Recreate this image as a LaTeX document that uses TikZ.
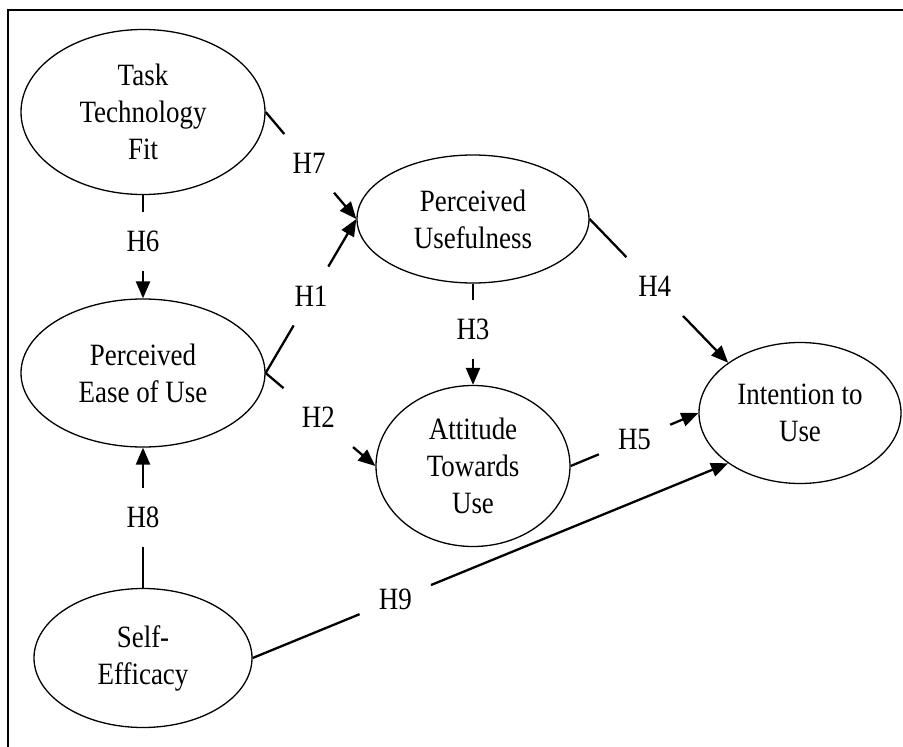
\documentclass[tikz,border=0pt]{standalone}
\usepackage{fontspec}
\setmainfont{Liberation Serif}[FakeStretch=0.87]
\usetikzlibrary{shapes.geometric,arrows.meta}
\tikzset{
  construct/.style={ellipse, draw, line width=1.3pt, inner sep=0pt, align=center,
    font=\fontsize{31}{37}\selectfont},
  lbl/.style={inner sep=19pt, font=\fontsize{31}{34}\selectfont},
  link/.style={line width=2.3pt},
  arr/.style={line width=2.3pt, -{Triangle[length=17pt,width=14pt]}},
}
\begin{document}
\begin{tikzpicture}[x=1pt,y=-1pt]
\useasboundingbox (0,0) rectangle (903,747);
\draw[line width=2pt] (903,10) -- (8,10) -- (8,747);

\node[construct, minimum width=244pt, minimum height=165pt] (TTF) at (143,112) {Task\\Technology\\Fit};
\node[construct, minimum width=244pt, minimum height=148pt] (PEOU) at (143,373) {Perceived\\Ease of Use};
\node[construct, minimum width=218pt, minimum height=139pt] (SE) at (143,658) {Self-\\Efficacy};
\node[construct, minimum width=232pt, minimum height=128pt] (PU) at (473,219) {Perceived\\Usefulness};
\node[construct, minimum width=194pt, minimum height=161pt] (ATU) at (473,466) {Attitude\\Towards\\Use};
\node[construct, minimum width=202pt, minimum height=141pt] (ITU) at (800,413) {Intention to\\Use};

% label nodes placed on the connector lines
\path (TTF.east) -- node[lbl, pos=0.48] (l7) {H7} (PU.west);
\path (PEOU.east) -- node[lbl, pos=0.5] (l1) {H1} (PU.west);
\path (PEOU.east) -- node[lbl, pos=0.48] (l2) {H2} (ATU.west);
\path (PU.south) -- node[lbl, pos=0.45] (l3) {H3} (ATU.north);
\path (PU.east) -- node[lbl, pos=0.47] (l4) {H4} (ITU.north west);
\path (ATU.east) -- node[lbl, pos=0.5] (l5) {H5} (ITU.west);
\path (TTF.south) -- node[lbl, pos=0.45] (l6) {H6} (PEOU.north);
\path (SE.north) -- node[lbl, pos=0.5] (l8) {H8} (PEOU.south);
\path (SE.east) -- node[lbl, pos=0.3] (l9) {H9} (ITU.south west);

\draw[link] (TTF.east) -- (l7);  \draw[arr] (l7) -- (PU.west);
\draw[link] (PEOU.east) -- (l1); \draw[arr] (l1) -- (PU.west);
\draw[link] (PEOU.east) -- (l2); \draw[arr] (l2) -- (ATU.west);
\draw[link] (PU.south) -- (l3);  \draw[arr] (l3) -- (ATU.north);
\draw[link] (PU.east) -- (l4);   \draw[arr] (l4) -- (ITU.north west);
\draw[link] (ATU.east) -- (l5);  \draw[arr] (l5) -- (ITU.west);
\draw[link] (TTF.south) -- (l6); \draw[arr] (l6) -- (PEOU.north);
\draw[link] (SE.north) -- (l8);  \draw[arr] (l8) -- (PEOU.south);
\draw[link] (SE.east) -- (l9);   \draw[arr] (l9) -- (ITU.south west);
\end{tikzpicture}
\end{document}
